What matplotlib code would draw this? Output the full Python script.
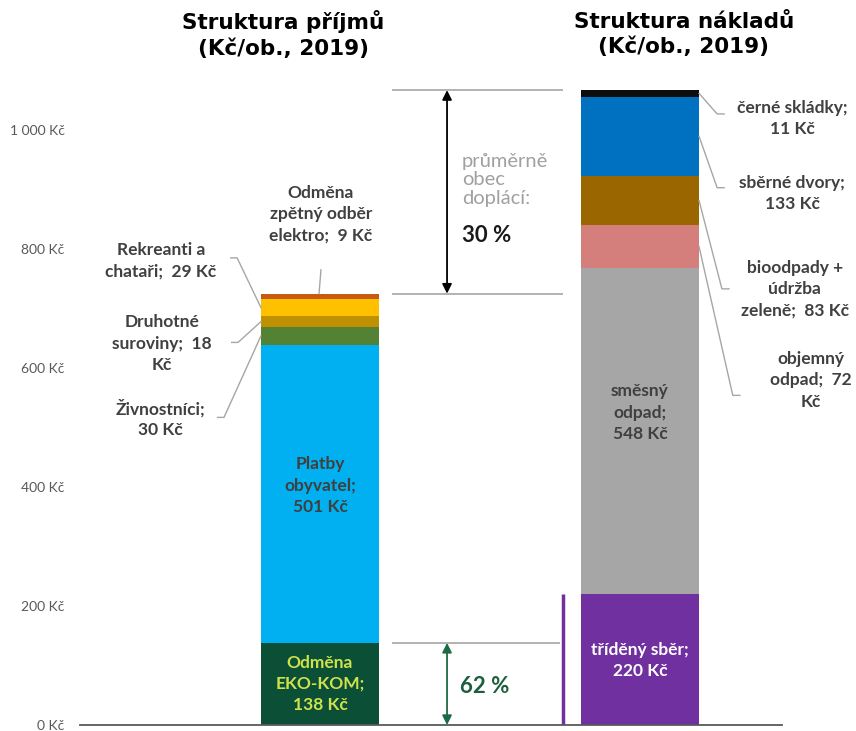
import numpy as np
import matplotlib.pyplot as plt

# Příjmy obce (Kč/ob., 2019), odspodu nahoru
prijmy_nazvy = ['Odměna\nEKO-KOM;\n138 Kč', 'Platby\nobyvatel;\n501 Kč', 'Živnostníci;\n30 Kč',
                'Druhotné\nsuroviny;  18\nKč', 'Rekreanti a\nchataři;  29 Kč',
                'Odměna\nzpětný odběr\nelektro;  9 Kč']
prijmy = [138, 501, 30, 18, 29, 9]
prijmy_barvy = ['#0b4f37', '#00b0f0', '#548235', '#bf9000', '#ffc000', '#c55a11']

# Náklady obce (Kč/ob., 2019), odspodu nahoru
naklady_nazvy = ['tříděný sběr;\n220 Kč', 'směsný\nodpad;\n548 Kč', 'objemný\nodpad;  72\nKč',
                 'bioodpady +\núdržba\nzeleně;  83 Kč', 'sběrné dvory;\n133 Kč', 'černé skládky;\n11 Kč']
naklady = [220, 548, 72, 83, 133, 11]
naklady_barvy = ['#7030a0', '#a6a6a6', '#d47f7b', '#996600', '#0070c0', '#0d0d0d']

y_ticks = [0, 200, 400, 600, 800, 1000]

fig = plt.figure(figsize=(8.56, 7.31), dpi=100)
ax = fig.add_axes([80 / 856, 6 / 731, 702 / 856, 654.5 / 731])

sirka = 0.369
popis = dict(family='Lato', fontweight='bold', fontsize=12.5, color='#404040',
             ha='center', va='center', linespacing=1.4)
cara = dict(color='#a6a6a6', lw=1)

# Sloupec příjmů
spodky_p = np.concatenate([[0], np.cumsum(prijmy)[:-1]])
ax.bar(0, prijmy, sirka, bottom=spodky_p, color=prijmy_barvy)
stredy_p = spodky_p + np.array(prijmy) / 2

# Sloupec nákladů
spodky_n = np.concatenate([[0], np.cumsum(naklady)[:-1]])
ax.bar(1, naklady, sirka, bottom=spodky_n, color=naklady_barvy)
stredy_n = spodky_n + np.array(naklady) / 2

# Popisky uvnitř sloupců
ax.text(0, stredy_p[0], prijmy_nazvy[0], **{**popis, 'color': '#cfe24a'})
ax.text(0, stredy_p[1] + 14, prijmy_nazvy[1], **popis)
ax.text(1, stredy_n[0] - 2, naklady_nazvy[0], **{**popis, 'color': 'white'})
ax.text(1, stredy_n[1] + 31, naklady_nazvy[1], **popis)

# Popisky vlevo s vodicími čarami: (x textu, y textu, x lomu, y lomu)
vlevo = {2: (-0.50, 515, -0.300, 517), 3: (-0.494, 641, -0.256, 643), 4: (-0.497, 780, -0.259, 785)}
for i, (tx, ty, lx, ly) in vlevo.items():
    ax.text(tx, ty, prijmy_nazvy[i], **popis)
    ax.plot([-sirka / 2, lx, lx - 0.02], [stredy_p[i], ly, ly], **cara)

# Elektro nad sloupcem
ax.text(0.003, 858, prijmy_nazvy[5], **popis)
ax.plot([-0.003, 0.003], [sum(prijmy), 765], **cara)

# Popisky vpravo
vpravo = {2: (1.535, 579, 1.29, 554), 3: (1.484, 733, 1.256, 733),
          4: (1.475, 893, 1.241, 903), 5: (1.475, 1020, 1.241, 1027)}
for i, (tx, ty, lx, ly) in vpravo.items():
    ax.text(tx, ty, naklady_nazvy[i], **popis, clip_on=False)
    ax.plot([1 + sirka / 2, lx, lx + 0.022], [stredy_n[i], ly, ly], **cara, clip_on=False)

# Vodorovné čáry a šipky mezi sloupci
x0, x1, xa = 0.225, 0.76, 0.397
ax.hlines([sum(naklady), sum(prijmy)], x0, x1, color='#a6a6a6', lw=1.2)
ax.hlines(prijmy[0], x0, 0.75, color='#a6a6a6', lw=1.2)
ax.annotate('', xy=(xa, sum(naklady)), xytext=(xa, sum(prijmy)),
            arrowprops=dict(arrowstyle='<|-|>', color='black', lw=1.3, mutation_scale=14,
                            shrinkA=0, shrinkB=0))
ax.annotate('', xy=(xa, prijmy[0]), xytext=(xa, 0),
            arrowprops=dict(arrowstyle='<|-|>', color='#1d6b45', lw=1.3, mutation_scale=14,
                            shrinkA=0, shrinkB=0))
ax.vlines(0.76, 0, naklady[0], color='#7030a0', lw=2.5)

ax.text(0.444, 916, 'průměrně\nobec\ndoplácí:', family='Lato', fontsize=14.5, color='#a0a0a0',
        ha='left', va='center', linespacing=1.1)
ax.text(0.444, 822, '30 %', family='Lato', fontweight='bold', fontsize=16, color='#1a1a1a',
        ha='left', va='center')
ax.text(0.516, 65, '62 %', family='Lato', fontweight='bold', fontsize=16, color='#1d5e3c',
        ha='center', va='center')

# Nadpisy
fig.text(0.331, 0.953, 'Struktura příjmů\n(Kč/ob., 2019)', family='DejaVu Sans', fontweight='bold',
         fontsize=15.5, ha='center', va='center', linespacing=1.3)
fig.text(0.799, 0.953, 'Struktura nákladů\n(Kč/ob., 2019)', family='DejaVu Sans', fontweight='bold',
         fontsize=15.5, ha='center', va='center', linespacing=1.3)

# Osy
ax.set_xlim(-0.75, 1.44375)
ax.set_ylim(0, 1100)
ax.set_yticks(y_ticks)
ax.set_yticklabels([f'{v:,} Kč'.replace(',', ' ') for v in y_ticks], family='Lato', fontsize=10,
                   color='#595959')
ax.tick_params(axis='y', length=0, pad=11)
ax.set_xticks([])
for s in ['left', 'right', 'top']:
    ax.spines[s].set_visible(False)
ax.spines['bottom'].set_color('#595959')
ax.spines['bottom'].set_linewidth(1.3)

plt.savefig('out.png')
